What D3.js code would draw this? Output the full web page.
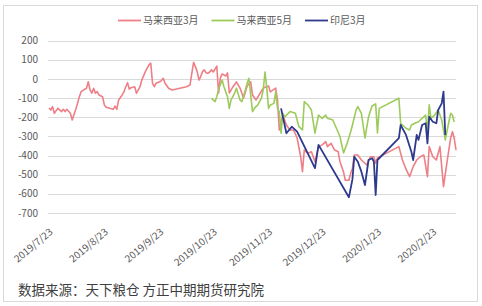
<!DOCTYPE html>
<html><head><meta charset="utf-8">
<script src="https://cdn.jsdelivr.net/npm/d3@7"></script>
<style>
body{margin:0;background:#fff}
svg{display:block}
text{font-family:"Noto Sans CJK SC","Noto Sans",sans-serif}
</style>
</head><body>
<svg id="c" width="482" height="306"></svg>
<script>
const seriesNames = ["马来西亚3月", "马来西亚5月", "印尼3月"];
const seriesColors = ["#EE7F86", "#9DCB5B", "#2E3A8E"];

const xTickLabels = ["2019/7/23","2019/8/23","2019/9/23","2019/10/23","2019/11/23","2019/12/23","2020/1/23","2020/2/23"];
const yTicks = [200,100,0,-100,-200,-300,-400,-500,-600,-700];

const myMar3Dates = ["2019/7/23","2019/7/24","2019/7/25","2019/7/26","2019/7/27","2019/7/28","2019/7/30","2019/7/31","2019/8/1","2019/8/2","2019/8/4","2019/8/5","2019/8/7","2019/8/8","2019/8/9","2019/8/10","2019/8/12","2019/8/13","2019/8/14","2019/8/15","2019/8/16","2019/8/17","2019/8/18","2019/8/19","2019/8/20","2019/8/22","2019/8/23","2019/8/24","2019/8/26","2019/8/28","2019/8/29","2019/8/30","2019/8/31","2019/9/2","2019/9/3","2019/9/4","2019/9/5","2019/9/6","2019/9/7","2019/9/8","2019/9/9","2019/9/10","2019/9/12","2019/9/13","2019/9/15","2019/9/17","2019/9/18","2019/9/19","2019/9/20","2019/9/21","2019/9/23","2019/9/24","2019/9/25","2019/9/26","2019/9/28","2019/9/30","2019/10/8","2019/10/10","2019/10/11","2019/10/12","2019/10/13","2019/10/14","2019/10/15","2019/10/16","2019/10/17","2019/10/18","2019/10/19","2019/10/20","2019/10/21","2019/10/22","2019/10/23","2019/10/25","2019/10/26","2019/10/27","2019/10/28","2019/10/30","2019/10/31","2019/11/1","2019/11/3","2019/11/5","2019/11/7","2019/11/9","2019/11/11","2019/11/13","2019/11/14","2019/11/16","2019/11/18","2019/11/20","2019/11/23","2019/11/24","2019/11/27","2019/11/28","2019/11/29","2019/12/1","2019/12/3","2019/12/5","2019/12/7","2019/12/9","2019/12/11","2019/12/12","2019/12/13","2019/12/15","2019/12/17","2019/12/19","2019/12/21","2019/12/23","2019/12/25","2019/12/26","2019/12/28","2019/12/30","2020/1/1","2020/1/2","2020/1/4","2020/1/5","2020/1/7","2020/1/8","2020/1/9","2020/1/10","2020/1/12","2020/1/14","2020/1/16","2020/1/17","2020/1/19","2020/1/21","2020/1/22","2020/1/23","2020/2/4","2020/2/6","2020/2/8","2020/2/10","2020/2/12","2020/2/14","2020/2/16","2020/2/18","2020/2/20","2020/2/21","2020/2/23","2020/2/25","2020/2/27","2020/2/29","2020/3/2","2020/3/4","2020/3/5","2020/3/6","2020/3/7"];
const myMar3Values = [-151,-162,-144,-179,-165,-153,-170,-158,-170,-158,-179,-214,-158,-127,-92,-66,-53,-48,-14,-57,-74,-48,-74,-66,-83,-92,-135,-147,-153,-158,-141,-158,-109,-83,-66,-40,-19,-53,-45,-43,-40,-74,-40,-5,39,74,83,-22,-40,-22,-14,-8,4,-22,-48,-57,-40,-31,30,87,65,39,-5,13,39,48,33,30,37,48,37,68,-73,6,27,16,32,-73,-41,-15,-47,-99,-36,-15,-83,-109,-78,-47,-36,-67,-47,-109,-266,-188,-240,-266,-266,-308,-406,-484,-371,-388,-380,-432,-353,-344,-327,-353,-336,-371,-380,-432,-486,-529,-529,-492,-466,-397,-397,-423,-440,-449,-406,-406,-440,-412,-353,-423,-471,-510,-458,-423,-406,-397,-510,-353,-406,-423,-353,-562,-432,-309,-275,-309,-371];

const myMay5Dates = ["2019/10/22","2019/10/23","2019/10/24","2019/10/25","2019/10/26","2019/10/28","2019/10/29","2019/10/31","2019/11/1","2019/11/2","2019/11/4","2019/11/5","2019/11/7","2019/11/8","2019/11/10","2019/11/11","2019/11/12","2019/11/14","2019/11/15","2019/11/17","2019/11/19","2019/11/20","2019/11/21","2019/11/22","2019/11/23","2019/11/24","2019/11/26","2019/11/27","2019/11/28","2019/11/29","2019/11/30","2019/12/1","2019/12/2","2019/12/5","2019/12/8","2019/12/10","2019/12/12","2019/12/13","2019/12/15","2019/12/17","2019/12/19","2019/12/21","2019/12/23","2019/12/25","2019/12/26","2019/12/29","2019/12/31","2020/1/2","2020/1/4","2020/1/6","2020/1/8","2020/1/9","2020/1/11","2020/1/12","2020/1/14","2020/1/16","2020/1/18","2020/1/20","2020/1/22","2020/1/23","2020/1/24","2020/2/4","2020/2/5","2020/2/8","2020/2/10","2020/2/11","2020/2/13","2020/2/15","2020/2/17","2020/2/19","2020/2/20","2020/2/21","2020/2/22","2020/2/24","2020/2/26","2020/2/28","2020/3/1","2020/3/3","2020/3/4","2020/3/5","2020/3/6"];
const myMay5Values = [-100,-109,-118,-92,-53,-5,-40,-92,-153,-109,-74,-48,-109,-118,-57,-22,4,-170,-153,-135,-100,-57,37,-47,-153,-135,-127,-67,-153,-170,-283,-179,-198,-170,-179,-249,-266,-118,-135,-162,-283,-188,-205,-188,-205,-214,-257,-300,-386,-336,-275,-240,-162,-144,-179,-308,-197,-141,-130,-282,-153,-100,-231,-257,-266,-240,-231,-223,-205,-188,-275,-135,-205,-188,-162,-214,-318,-223,-179,-188,-224];

const idMar3Dates = ["2019/11/30","2019/12/3","2019/12/6","2019/12/9","2019/12/19","2019/12/21","2020/1/7","2020/1/9","2020/1/10","2020/1/12","2020/1/14","2020/1/16","2020/1/18","2020/1/20","2020/1/21","2020/1/22","2020/1/23","2020/2/4","2020/2/5","2020/2/8","2020/2/11","2020/2/12","2020/2/14","2020/2/15","2020/2/17","2020/2/19","2020/2/20","2020/2/21","2020/2/23","2020/2/25","2020/2/26","2020/2/28","2020/2/29","2020/3/1"];
const idMar3Values = [-153,-283,-249,-275,-466,-344,-618,-523,-406,-432,-484,-554,-423,-414,-432,-606,-423,-309,-240,-292,-380,-423,-292,-318,-240,-231,-336,-197,-223,-231,-162,-127,-66,-292];

const sourceText = "数据来源：天下粮仓 方正中期期货研究院";

const parse = d3.timeParse("%Y/%m/%d");
const svg = d3.select("#c");

const x = d3.scaleTime().domain([parse("2019/7/23"), parse("2020/3/7")]).range([49, 456]);
const y = d3.scaleLinear().domain([-700, 200]).range([213, 40.8]);

// frame
svg.append("rect").attr("x", 3.5).attr("y", 5.5).attr("width", 474).attr("height", 296)
  .attr("fill", "#fff").attr("stroke", "#d9d9d9").attr("stroke-width", 1);

// gridlines
svg.append("g").selectAll("line").data(yTicks).join("line")
  .attr("x1", 48).attr("x2", 456)
  .attr("y1", d => Math.round(y(d)) + 0.5).attr("y2", d => Math.round(y(d)) + 0.5)
  .attr("stroke", "#d9d9d9").attr("stroke-width", 1);

// y labels
svg.append("g").selectAll("text").data(yTicks).join("text")
  .attr("x", 38).attr("y", d => y(d) + 3.5)
  .attr("text-anchor", "end").attr("font-size", 10).attr("fill", "#595959")
  .text(d => d);

// x labels
svg.append("g").selectAll("text").data(xTickLabels).join("text")
  .attr("transform", d => `translate(${x(parse(d)) + 4.5},233) rotate(-40)`)
  .attr("text-anchor", "end").attr("font-size", 10).attr("fill", "#595959")
  .text(d => d);

const series = [
  { dates: myMar3Dates, values: myMar3Values },
  { dates: myMay5Dates, values: myMay5Values },
  { dates: idMar3Dates, values: idMar3Values }
];

const line = d3.line().x(d => x(d.date)).y(d => y(d.v));

series.forEach((s, i) => {
  const pts = s.dates.map((d, j) => ({ date: parse(d), v: s.values[j] }));
  svg.append("path").datum(pts)
    .attr("d", line).attr("fill", "none")
    .attr("stroke", seriesColors[i]).attr("stroke-width", i === 2 ? 1.8 : 1.6)
    .attr("stroke-linejoin", "round");
});

// legend
const legendX = [118, 211.5, 305];
const lg = svg.append("g");
seriesNames.forEach((n, i) => {
  lg.append("line").attr("x1", legendX[i]).attr("x2", legendX[i] + 23)
    .attr("y1", 20.5).attr("y2", 20.5).attr("stroke", seriesColors[i]).attr("stroke-width", 1.8);
  lg.append("text").attr("x", legendX[i] + 25).attr("y", 24.2)
    .attr("font-size", 10).attr("fill", "#595959").text(n);
});

// source
svg.append("text").attr("x", 18).attr("y", 295).attr("font-size", 13.5)
  .attr("fill", "#404040").text(sourceText);
</script>
</body></html>
